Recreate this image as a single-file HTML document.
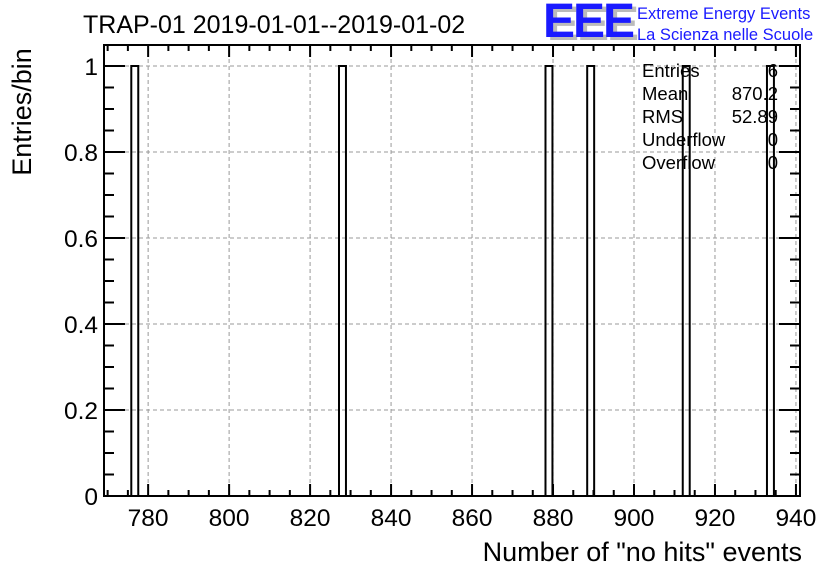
<!DOCTYPE html>
<html><head><meta charset="utf-8"><style>
html,body{margin:0;padding:0;background:#fff}
svg{display:block;font-family:"Liberation Sans",sans-serif}
</style></head><body>
<svg id="c" width="836" height="572" xmlns="http://www.w3.org/2000/svg">
<text x="83" y="33" font-size="25">TRAP-01 2019-01-01--2019-01-02</text>
<g>
<text x="547" y="40" font-size="48" font-weight="bold" fill="#bbb" letter-spacing="-2">EEE</text>
<text x="543" y="37" font-size="48" font-weight="bold" fill="#1a1aff" letter-spacing="-2">EEE</text>
<text x="637" y="19" font-size="16.5" fill="#1a1aff">Extreme Energy Events</text>
<text x="637" y="40" font-size="16.5" fill="#1a1aff">La Scienza nelle Scuole</text>
</g>
<g id="grid"></g>
<g id="bars"></g>
<g id="axes"></g>
<g font-size="18.5">
<text x="642" y="77">Entries</text><text x="778" y="77" text-anchor="end">6</text>
<text x="642" y="100">Mean</text><text x="778" y="100" text-anchor="end">870.2</text>
<text x="642" y="123">RMS</text><text x="778" y="123" text-anchor="end">52.89</text>
<text x="642" y="146">Underflow</text><text x="778" y="146" text-anchor="end">0</text>
<text x="642" y="169">Overflow</text><text x="778" y="169" text-anchor="end">0</text>
</g>
<text transform="translate(31,112) rotate(-90)" text-anchor="middle" font-size="27">Entries/bin</text>
<text x="802" y="561" text-anchor="end" font-size="27">Number of "no hits" events</text>
</svg>
<script>
const binCenters=[776.7,828.0,879.0,889.3,912.9,933.7];
const binCounts=[1,1,1,1,1,1];
const xTicks=[780,800,820,840,860,880,900,920,940];
const yTicks=[0,0.2,0.4,0.6,0.8,1];
const yTickLabels=["0","0.2","0.4","0.6","0.8","1"];
const binWidth=1.72;
const L=104,R=800,T=45,B=496,xmin=769.1,xmax=941,ymax=1.0488;
const NS="http://www.w3.org/2000/svg";
const X=v=>L+(v-xmin)/(xmax-xmin)*(R-L);
const Y=v=>B-v/ymax*(B-T);
function mk(t,a,p){const e=document.createElementNS(NS,t);for(const k in a)e.setAttribute(k,a[k]);p.appendChild(e);return e;}
const grid=document.getElementById('grid'),bars=document.getElementById('bars'),axes=document.getElementById('axes');
xTicks.forEach(v=>{const g=mk('line',{x1:X(v),x2:X(v),y1:T,y2:B,stroke:'#999','stroke-dasharray':'4,3','stroke-width':1},grid);

});
yTicks.forEach(v=>{const g=mk('line',{x1:L,x2:R,y1:Y(v),y2:Y(v),stroke:'#999','stroke-dasharray':'4,3','stroke-width':1},grid);

});
binCenters.forEach((c,i)=>{const x0=X(c-binWidth/2),x1=X(c+binWidth/2),y=Y(binCounts[i]);
const p=mk('path',{d:`M${x0},${B}V${y}H${x1}V${B}`,fill:'none',stroke:'#000','stroke-width':2},bars);

});
const f=mk('rect',{x:L,y:T,width:R-L,height:B-T,fill:'none',stroke:'#000','stroke-width':2},axes);


for(let v=770;v<=941;v+=5){const maj=v%20==0,len=maj?12:6,x=X(v);
mk('line',{x1:x,x2:x,y1:B,y2:B-len,stroke:'#000','stroke-width':2},axes);
mk('line',{x1:x,x2:x,y1:T,y2:T+len,stroke:'#000','stroke-width':2},axes);}
xTicks.forEach(v=>{const t=mk('text',{x:X(v),y:B+30,'text-anchor':'middle','font-size':24.5},axes);t.textContent=v;

});
for(let k=0;k<=20;k++){const v=k*0.05,maj=k%4==0,len=maj?21:10,y=Y(v);
mk('line',{x1:L,x2:L+len,y1:y,y2:y,stroke:'#000','stroke-width':2},axes);
mk('line',{x1:R,x2:R-len,y1:y,y2:y,stroke:'#000','stroke-width':2},axes);}
yTicks.forEach((v,i)=>{const t=mk('text',{x:L-6,y:Y(v)+9,'text-anchor':'end','font-size':24.5},axes);t.textContent=yTickLabels[i];

});
</script>
</body></html>
